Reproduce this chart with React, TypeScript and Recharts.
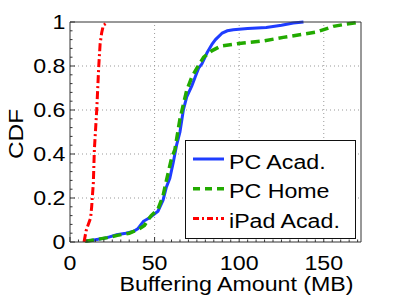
import { LineChart, Line, XAxis, YAxis, ReferenceLine, Legend } from "recharts";

// CDF of buffering amount per device / location
const pcAcadMB = [9.5, 15, 22, 27.6, 33, 37.5, 40, 43.4, 47, 49.3, 52, 55, 57, 59, 61, 63, 65, 67, 69, 72, 74, 76, 78, 81, 84, 86, 90, 93, 96.5, 105, 116, 125, 132, 138];
const pcAcadCdf = [0.003, 0.01, 0.02, 0.033, 0.04, 0.048, 0.06, 0.094, 0.11, 0.124, 0.14, 0.19, 0.25, 0.29, 0.36, 0.44, 0.5, 0.6, 0.66, 0.71, 0.75, 0.79, 0.81, 0.86, 0.9, 0.92, 0.95, 0.96, 0.965, 0.97, 0.975, 0.985, 0.995, 1];

const pcHomeMB = [8.9, 15, 22, 28, 35, 40, 44, 46, 48, 52, 55, 57, 60, 62, 65, 69, 72, 75, 79, 84, 89, 102.5, 115, 126, 134, 146, 155.6, 163, 171.6];
const pcHomeCdf = [0.003, 0.01, 0.02, 0.03, 0.04, 0.055, 0.075, 0.1, 0.12, 0.15, 0.21, 0.28, 0.38, 0.42, 0.56, 0.69, 0.75, 0.79, 0.84, 0.87, 0.89, 0.905, 0.915, 0.93, 0.94, 0.955, 0.98, 0.99, 1];

const ipadAcadMB = [8.3, 9.5, 10.8, 12.2, 12.8, 13.8, 14.4, 15.8, 17, 17.8, 18.7, 19.7, 22.5];
const ipadAcadCdf = [0, 0.05, 0.08, 0.11, 0.16, 0.27, 0.42, 0.6, 0.8, 0.9, 0.95, 0.985, 1];

const xMajor = [0, 50, 100, 150];
const yMajor = [0, 0.2, 0.4, 0.6, 0.8, 1];
const xMinor = Array.from({ length: 35 }, (_, i) => i * 5);
const yMinor = Array.from({ length: 26 }, (_, i) => Math.round(i * 4) / 100);

const toPoints = (xs: number[], ys: number[]) => xs.map((x, i) => ({ x, y: ys[i] }));

const series = [
  { name: "PC Acad.", data: toPoints(pcAcadMB, pcAcadCdf), color: "#1f3dff", dash: undefined as string | undefined, legendDash: undefined as string | undefined, width: 3 },
  { name: "PC Home", data: toPoints(pcHomeMB, pcHomeCdf), color: "#22aa00", dash: "9 5", legendDash: "7 5", width: 3.5 },
  { name: "iPad Acad.", data: toPoints(ipadAcadMB, ipadAcadCdf), color: "#ff0000", dash: "8 3 2 3", legendDash: "6 3 2 3", width: 3 },
];

const FONT = "'Liberation Sans', Arial, Helvetica, sans-serif";
const FS = 20;
const SX = 1.16;
const AXIS = "#333";

function XTick(props: any) {
  const { x, y, payload, side } = props;
  const v = payload.value;
  const major = xMajor.includes(v);
  const len = major ? 5 : 2.5;
  const dir = side === "bottom" ? -1 : 1;
  return (
    <g>
      <line x1={x} x2={x} y1={y} y2={y + dir * len} stroke={AXIS} />
      {side === "bottom" && major && (
        <text
          transform={`translate(${x},${y + 28}) scale(${SX},1)`}
          textAnchor="middle"
          fontSize={FS}
          fontFamily={FONT}
          fill="#000"
        >
          {v}
        </text>
      )}
    </g>
  );
}

function YTick(props: any) {
  const { x, y, payload, side } = props;
  const v = payload.value;
  const major = yMajor.includes(v);
  const len = major ? 5 : 2.5;
  const dir = side === "left" ? 1 : -1;
  return (
    <g>
      <line x1={x} x2={x + dir * len} y1={y} y2={y} stroke={AXIS} />
      {side === "left" && major && (
        <text
          transform={`translate(${x - 4.5},${y + 7.3}) scale(${SX},1)`}
          textAnchor="end"
          fontSize={FS}
          fontFamily={FONT}
          fill="#000"
        >
          {String(v)}
        </text>
      )}
    </g>
  );
}

function LegendBox() {
  return (
    <div style={{ width: 171, height: 99, border: "1px solid #111", background: "#fff", boxSizing: "border-box" }}>
      <svg width={169} height={97} style={{ display: "block" }}>
        {series.map((s, i) => {
          const cy = 18 + i * 29.7;
          return (
            <g key={s.name}>
              <line x1={7} x2={38} y1={cy} y2={cy} stroke={s.color} strokeWidth={s.width} strokeDasharray={s.legendDash} />
              <text transform={`translate(43,${cy + 9.5}) scale(${SX},1)`} fontSize={FS} fontFamily={FONT} fill="#000">
                {s.name}
              </text>
            </g>
          );
        })}
      </svg>
    </div>
  );
}

export default function App() {
  return (
    <div style={{ position: "absolute", left: 0, top: 0, width: 399, height: 300, background: "#fff" }}>
      <LineChart width={399} height={300} margin={{ top: 0, right: 0, bottom: 0, left: 0 }}>
        <XAxis
          type="number"
          dataKey="x"
          domain={[0, 172]}
          ticks={xMinor}
          interval={0}
          height={58}
          tickSize={0}
          tickMargin={0}
          tickLine={false}
          axisLine={{ stroke: AXIS }}
          tick={<XTick side="bottom" />}
          label={(p: any) => {
            const vb = p.viewBox;
            return (
              <text
                transform={`translate(${vb.x + vb.width / 2 + 21},291) scale(${SX},1)`}
                textAnchor="middle"
                fontSize={FS}
                fontFamily={FONT}
                fill="#000"
              >
                Buffering Amount (MB)
              </text>
            );
          }}
        />
        <XAxis
          xAxisId="top"
          orientation="top"
          type="number"
          dataKey="x"
          domain={[0, 172]}
          ticks={xMinor}
          interval={0}
          height={22}
          tickSize={0}
          tickMargin={0}
          tickLine={false}
          axisLine={{ stroke: AXIS }}
          tick={<XTick side="top" />}
        />
        <YAxis
          type="number"
          dataKey="y"
          domain={[0, 1]}
          ticks={yMinor}
          interval={0}
          width={70}
          tickSize={0}
          tickMargin={0}
          tickLine={false}
          axisLine={{ stroke: AXIS }}
          tick={<YTick side="left" />}
          label={(p: any) => {
            const vb = p.viewBox;
            const cy = vb.y + vb.height / 2 + 2;
            return (
              <text
                transform={`translate(23,${cy}) rotate(-90) scale(${SX},1)`}
                textAnchor="middle"
                fontSize={FS + 1}
                fontFamily={FONT}
                fill="#000"
              >
                CDF
              </text>
            );
          }}
        />
        <YAxis
          yAxisId="right"
          orientation="right"
          type="number"
          dataKey="y"
          domain={[0, 1]}
          ticks={yMinor}
          interval={0}
          width={38}
          tickSize={0}
          tickMargin={0}
          tickLine={false}
          axisLine={{ stroke: AXIS }}
          tick={<YTick side="right" />}
        />
        {[50, 100, 150].map((v) => (
          <ReferenceLine key={"gx" + v} x={v} stroke="#999" strokeDasharray="1 3" />
        ))}
        {[0.2, 0.4, 0.6, 0.8].map((v) => (
          <ReferenceLine key={"gy" + v} y={v} stroke="#999" strokeDasharray="1 3" />
        ))}
        {series.map((s) => (
          <Line
            key={s.name}
            name={s.name}
            data={s.data}
            dataKey="y"
            type="linear"
            stroke={s.color}
            strokeWidth={s.width}
            strokeDasharray={s.dash}
            dot={false}
            isAnimationActive={false}
          />
        ))}
        <Legend
          layout="vertical"
          align="center"
          verticalAlign="middle"
          content={() => <LegendBox />}
          wrapperStyle={{ position: "absolute", left: 185, top: 140, width: 171, height: 99 }}
        />
      </LineChart>
    </div>
  );
}
